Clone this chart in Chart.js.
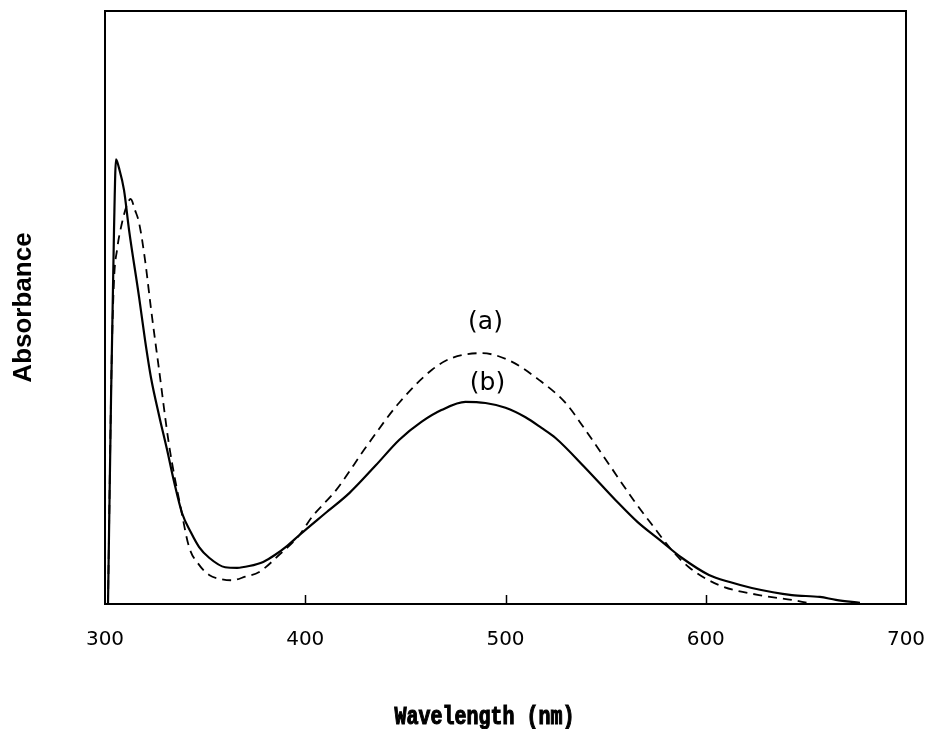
<!DOCTYPE html>
<html>
<head>
<meta charset="utf-8">
<script src="https://cdn.jsdelivr.net/npm/chart.js@4.4.1/dist/chart.umd.min.js"></script>
<style>
html,body{margin:0;padding:0;background:#fff;}
#wrap{width:939px;height:729px;position:relative;}
</style>
</head>
<body>
<div id="wrap"><canvas id="c" width="939" height="729"></canvas></div>
<script>
// Wavelength (nm) and absorbance (arbitrary units)
const wavelengthsA = [301.5,303.3,304.5,306,308.5,311,312.8,315,317,320,323,327,332,338,342,347,352,358,363.4,370,377,387,397,403.4,415.4,430,446.8,463.3,473.3,488,501.7,516.7,530,540,552,564,574,583,591.6,606.6,626.6,643,650.6];
const absorbanceA = [0,0.406,0.546,0.597,0.643,0.673,0.683,0.664,0.643,0.580,0.497,0.395,0.268,0.159,0.096,0.066,0.049,0.042,0.040,0.046,0.054,0.083,0.116,0.147,0.192,0.263,0.339,0.395,0.415,0.423,0.411,0.378,0.339,0.293,0.234,0.175,0.130,0.091,0.062,0.032,0.015,0.007,0.002];

const wavelengthsB = [301.5,303,304.5,305.5,307,309.5,312,317,320,323,327,331,334.5,338.5,343,347,352,360,366,372,379,385,391,397,410,422,435,447,458,468,480,490,500,510,518,525,540,555,566,577,588,601.6,612,623,643,657,665,677];
const absorbanceB = [0,0.344,0.631,0.750,0.735,0.698,0.631,0.518,0.445,0.381,0.318,0.260,0.206,0.153,0.120,0.096,0.078,0.062,0.061,0.064,0.071,0.083,0.098,0.116,0.153,0.187,0.233,0.277,0.307,0.327,0.341,0.339,0.331,0.315,0.297,0.280,0.229,0.175,0.138,0.108,0.078,0.049,0.037,0.027,0.015,0.012,0.007,0.002];

const xTickLabels = ['300','400','500','600','700'];
const seriesLabels = ['(a)','(b)'];
const labelPos = [[490,0.475],[491,0.372]]; // data coordinates of the curve labels
const xTitle = 'Wavelength (nm)';
const xTitleCenter = 489.5; // wavelength under which the axis title is centred

const toPts = (xs, ys) => xs.map((x,i)=>({x:x, y:ys[i]}));

const framePlugin = {
  id:'frame',
  afterDatasetsDraw(chart){
    const {ctx, chartArea:a, scales:{x, y}} = chart;
    ctx.save();
    ctx.strokeStyle = '#000';
    ctx.lineWidth = 2;
    ctx.strokeRect(a.left, a.top, a.right - a.left, a.bottom - a.top);
    // inward tick marks
    ctx.lineWidth = 1.5;
    x.ticks.forEach(t => {
      if (t.value <= x.min || t.value >= x.max) return;
      const px = Math.round(x.getPixelForValue(t.value)) + 0.5;
      ctx.beginPath();
      ctx.moveTo(px, a.bottom);
      ctx.lineTo(px, a.bottom - 9);
      ctx.stroke();
    });
    // curve labels
    ctx.fillStyle = '#000';
    ctx.font = '25px "DejaVu Sans"';
    ctx.textAlign = 'center';
    ctx.textBaseline = 'middle';
    seriesLabels.forEach((s,i) => {
      ctx.fillText(s, x.getPixelForValue(labelPos[i][0]), y.getPixelForValue(labelPos[i][1]));
    });
    // x axis title (typewriter-like, slightly tall)
    ctx.font = 'bold 20px "Liberation Mono"';
    ctx.textBaseline = 'alphabetic';
    ctx.lineWidth = 0.9;
    const tx = x.getPixelForValue(xTitleCenter);
    ctx.translate(tx, 724);
    ctx.scale(1, 1.3);
    ctx.fillText(xTitle, 0, 0);
    ctx.strokeText(xTitle, 0, 0);
    ctx.restore();
  }
};

new Chart(document.getElementById('c'), {
  type:'line',
  data:{
    datasets:[
      {label:'(a)', data:toPts(wavelengthsA, absorbanceA), borderColor:'#000', borderWidth:1.8, borderDash:[9,6], pointRadius:0, cubicInterpolationMode:'monotone', fill:false},
      {label:'(b)', data:toPts(wavelengthsB, absorbanceB), borderColor:'#000', borderWidth:2.2, pointRadius:0, cubicInterpolationMode:'monotone', fill:false}
    ]
  },
  options:{
    responsive:false,
    animation:false,
    devicePixelRatio:1,
    layout:{padding:{left:0, right:33, top:11, bottom:0}},
    plugins:{legend:{display:false}, tooltip:{enabled:false}},
    scales:{
      x:{
        type:'linear', min:300, max:700,
        grid:{display:false}, border:{display:false},
        ticks:{stepSize:100, padding:16, color:'#000', font:{family:'"DejaVu Sans"', size:20},
          callback:(v)=>{ const i = xTickLabels.indexOf(String(v)); return i>=0 ? xTickLabels[i] : ''; }},
        title:{display:false, text:xTitle},
        afterFit(s){ s.height = 125; s.paddingRight = 0; s.paddingLeft = 0; }
      },
      y:{
        type:'linear', min:0, max:1,
        grid:{display:false}, border:{display:false},
        ticks:{display:false},
        title:{display:true, text:'Absorbance', color:'#000', font:{family:'"Liberation Sans"', size:26, weight:'bold'}, padding:{top:8,bottom:0}},
        afterFit(s){ s.width = 105; }
      }
    }
  },
  plugins:[framePlugin]
});
</script>
</body>
</html>
